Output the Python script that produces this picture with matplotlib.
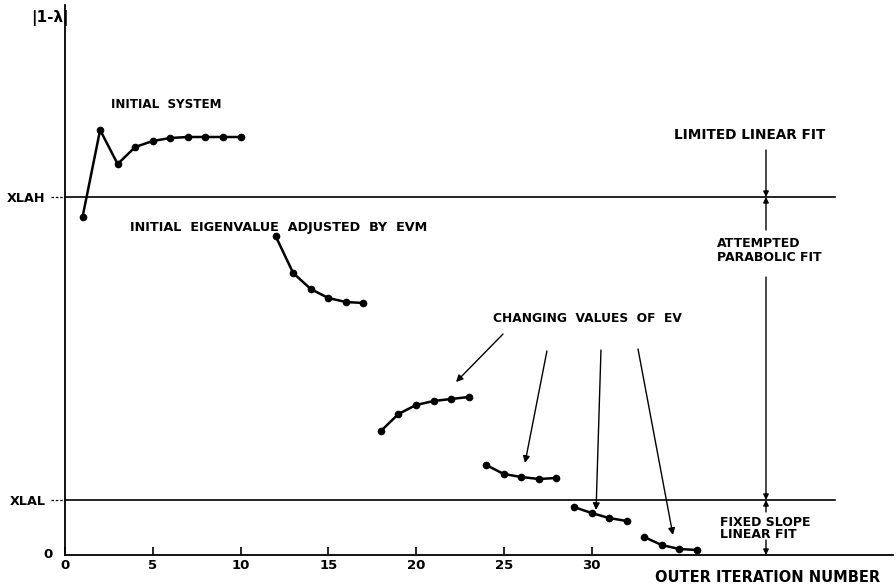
import matplotlib
matplotlib.use("Agg")
import matplotlib.pyplot as plt

# ---- data (y in arbitrary |1-lambda| units) ----
init_x = [1, 2, 3, 4, 5, 6, 7, 8, 9, 10]
init_y = [3.38, 4.25, 3.91, 4.08, 4.14, 4.17, 4.18, 4.18, 4.18, 4.18]

adj_x = [12, 13, 14, 15, 16, 17]
adj_y = [3.19, 2.82, 2.66, 2.57, 2.53, 2.52]

ev1_x = [18, 19, 20, 21, 22, 23]
ev1_y = [1.24, 1.41, 1.50, 1.54, 1.56, 1.58]

ev2_x = [24, 25, 26, 27, 28]
ev2_y = [0.90, 0.81, 0.78, 0.76, 0.77]

ev3_x = [29, 30, 31, 32]
ev3_y = [0.48, 0.42, 0.37, 0.34]

ev4_x = [33, 34, 35, 36]
ev4_y = [0.18, 0.10, 0.06, 0.05]

XLAH = 3.58
XLAL = 0.55

xticks = [0, 5, 10, 15, 20, 25, 30]

plt.rcParams["font.family"] = ["DejaVu Sans"]
plt.rcParams["font.weight"] = "bold"

# ---- figure ----
W, H = 896, 585
fig = plt.figure(figsize=(W / 100, H / 100), dpi=100)
left_px, bottom_px, right_px, top_px = 65, 555, 893, 5
ax = fig.add_axes([left_px / W, (H - bottom_px) / H,
                   (right_px - left_px) / W, (bottom_px - top_px) / H])
ax.set_xlim(0, (right_px - left_px) / 17.55)
ax.set_ylim(0, (bottom_px - top_px) / 100)

for s in ("top", "right"):
    ax.spines[s].set_visible(False)
for s in ("left", "bottom"):
    ax.spines[s].set_linewidth(1.3)
    ax.spines[s].set_color("black")

ax.set_xticks(xticks)
ax.set_xticklabels([str(t) for t in xticks], fontsize=9.5, fontweight="bold")
ax.tick_params(axis="x", direction="in", length=6, width=1.2, pad=3)
ax.set_yticks([XLAL, XLAH])
ax.set_yticklabels(["XLAL", "XLAH"], fontsize=9.2, fontweight="bold")
ax.tick_params(axis="y", length=0, pad=14)
ax.text(-0.97, 0.0, "0", fontsize=9.5, ha="center", va="center",
        fontweight="bold", clip_on=False)

# horizontal reference lines
xend = (835 - left_px) / 17.55
ax.plot([0, xend], [XLAH, XLAH], color="black", lw=1.2)
ax.plot([0, xend], [XLAL, XLAL], color="black", lw=1.2)
for yy in (XLAH, XLAL):
    ax.plot([-0.8, 0], [yy, yy], color="black", lw=0.9, ls=(0, (2, 1.5)),
            clip_on=False)

# series
for xs, ys in [(init_x, init_y), (adj_x, adj_y), (ev1_x, ev1_y),
               (ev2_x, ev2_y), (ev3_x, ev3_y), (ev4_x, ev4_y)]:
    ax.plot(xs, ys, color="black", lw=1.8, marker="o", markersize=4.5,
            clip_on=False)

# labels
tk = dict(fontweight="bold")
ax.text(5.75, 4.50, "INITIAL  SYSTEM", fontsize=8.6, ha="center", va="center", **tk)
ax.text(3.70, 3.28, "INITIAL  EIGENVALUE  ADJUSTED  BY  EVM", fontsize=9.2,
        ha="left", va="center", **tk)
ax.text(24.39, 2.36, "CHANGING  VALUES  OF  EV", fontsize=8.8,
        ha="left", va="center", **tk)
ax.text(39.0, 4.20, "LIMITED LINEAR FIT", fontsize=9.8, ha="center",
        va="center", **tk)
ax.text(37.15, 3.045, "ATTEMPTED\nPARABOLIC FIT", fontsize=9.0, ha="left",
        va="center", linespacing=1.15, **tk)
ax.text(37.32, 0.265, "FIXED SLOPE\nLINEAR FIT", fontsize=9.0, ha="left",
        va="center", linespacing=0.88, **tk)
fig.text(655 / W, 1 - 577 / H, "OUTER ITERATION NUMBER", fontsize=10.5,
         ha="left", va="center", **tk)
fig.text(69 / W, 1 - 18 / H, "|1-λ|", fontsize=11, ha="right", va="center", **tk)

# arrows to the EV curves
ap = dict(arrowstyle="-|>", color="black", lw=1.0, mutation_scale=10,
          shrinkA=0, shrinkB=0)
ax.annotate("", xy=(22.28, 1.73), xytext=(24.96, 2.21), arrowprops=ap)
ax.annotate("", xy=(26.21, 0.92), xytext=(27.46, 2.04), arrowprops=ap)
ax.annotate("", xy=(30.26, 0.45), xytext=(30.54, 2.05), arrowprops=ap)
ax.annotate("", xy=(34.64, 0.20), xytext=(32.65, 2.06), arrowprops=ap)

# dimension arrows on the right
xd = (766 - left_px) / 17.55
dp = dict(arrowstyle="-|>", color="black", lw=1.0, mutation_scale=8,
          shrinkA=0, shrinkB=0)
ax.annotate("", xy=(xd, XLAH), xytext=(xd, 4.05), arrowprops=dp)
ax.annotate("", xy=(xd, XLAH), xytext=(xd, 3.25), arrowprops=dp)
ax.annotate("", xy=(xd, XLAL), xytext=(xd, 2.78), arrowprops=dp)
ax.annotate("", xy=(xd, XLAL), xytext=(xd, 0.43), arrowprops=dp)
ax.annotate("", xy=(xd, 0), xytext=(xd, 0.15), arrowprops=dp)

fig.savefig("out.png", dpi=100)
